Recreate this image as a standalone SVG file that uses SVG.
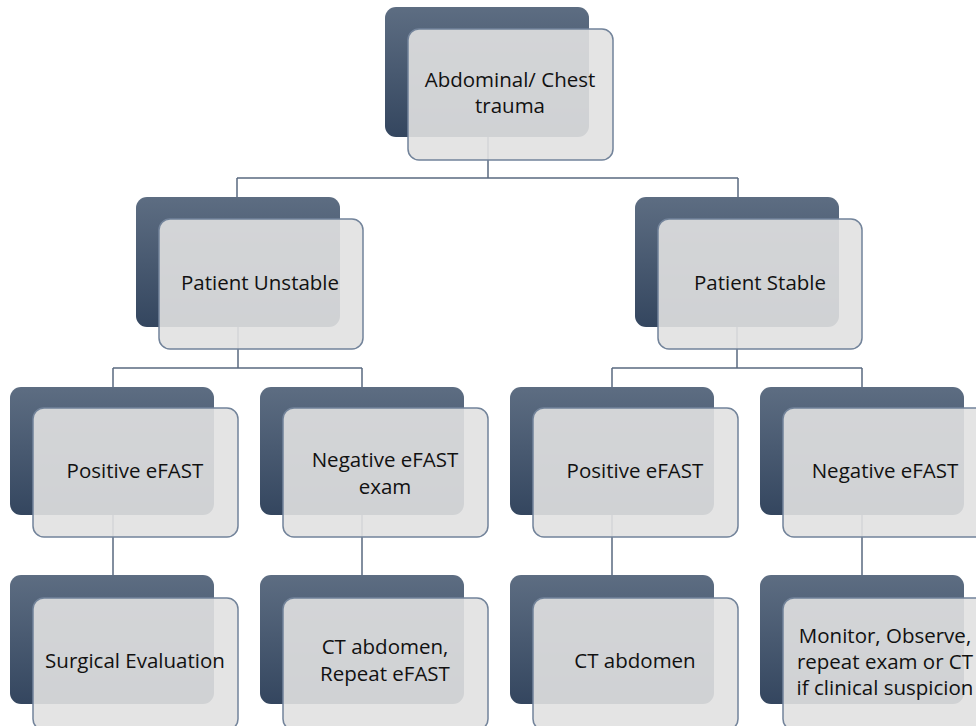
<svg xmlns="http://www.w3.org/2000/svg" width="976" height="726" viewBox="0 0 976 726">
<defs>
<linearGradient id="g" x1="0" y1="0" x2="0" y2="1">
<stop offset="0" stop-color="#5d6d82"/>
<stop offset="1" stop-color="#34465f"/>
</linearGradient>
</defs>
<style>
.back{fill:url(#g);}
.front{fill:#e1e1e1;fill-opacity:0.9;stroke:#72839a;stroke-width:1.5;}
.lbl{font-family:"Open Sans","Liberation Sans",sans-serif;font-size:20.5px;fill:#111111;text-anchor:middle;}
.conn{fill:none;stroke:#5a6a80;stroke-width:1.5;}
</style>
<rect width="976" height="726" fill="#ffffff"/>
<g id="connectors">
<path class="conn" d="M488,137 V178 M237,178 H738 M237,178 V197 M738,178 V197"/>
<path class="conn" d="M238,327 V368 M113,368 H362 M113,368 V387 M362,368 V387"/>
<path class="conn" d="M737,327 V368 M612,368 H862 M612,368 V387 M862,368 V387"/>
<path class="conn" d="M113,515 V575 M362,515 V575 M612,515 V575 M862,515 V575"/>
</g>
<g id="n-root">
<rect class="back" x="385" y="7" width="204" height="130" rx="11"/>
<rect class="front" x="408" y="29" width="205" height="131" rx="11"/>
<text class="lbl"><tspan x="510" y="87">Abdominal/ Chest</tspan><tspan x="510" y="113">trauma</tspan></text>
</g>
<g id="n-unstable">
<rect class="back" x="136" y="197" width="204" height="130" rx="11"/>
<rect class="front" x="159" y="219" width="204" height="130" rx="11"/>
<text class="lbl" x="260" y="290">Patient Unstable</text>
</g>
<g id="n-stable">
<rect class="back" x="635" y="197" width="204" height="130" rx="11"/>
<rect class="front" x="658" y="219" width="204" height="130" rx="11"/>
<text class="lbl" x="760" y="290">Patient Stable</text>
</g>
<g id="n-u-pos">
<rect class="back" x="10" y="387" width="204" height="128" rx="11"/>
<rect class="front" x="33" y="408" width="205" height="129" rx="11"/>
<text class="lbl" x="135" y="478">Positive eFAST</text>
</g>
<g id="n-u-neg">
<rect class="back" x="260" y="387" width="204" height="128" rx="11"/>
<rect class="front" x="283" y="408" width="205" height="129" rx="11"/>
<text class="lbl"><tspan x="385" y="467">Negative eFAST</tspan><tspan x="385" y="494">exam</tspan></text>
</g>
<g id="n-s-pos">
<rect class="back" x="510" y="387" width="204" height="128" rx="11"/>
<rect class="front" x="533" y="408" width="205" height="129" rx="11"/>
<text class="lbl" x="635" y="478">Positive eFAST</text>
</g>
<g id="n-s-neg">
<rect class="back" x="760" y="387" width="204" height="128" rx="11"/>
<rect class="front" x="783" y="408" width="205" height="129" rx="11"/>
<text class="lbl" x="885" y="478">Negative eFAST</text>
</g>
<g id="n-surgical">
<rect class="back" x="10" y="575" width="204" height="129" rx="11"/>
<rect class="front" x="33" y="598" width="205" height="132" rx="11"/>
<text class="lbl" x="135" y="668">Surgical Evaluation</text>
</g>
<g id="n-ct-repeat">
<rect class="back" x="260" y="575" width="204" height="129" rx="11"/>
<rect class="front" x="283" y="598" width="205" height="132" rx="11"/>
<text class="lbl"><tspan x="385" y="654">CT abdomen,</tspan><tspan x="385" y="681">Repeat eFAST</tspan></text>
</g>
<g id="n-ct">
<rect class="back" x="510" y="575" width="204" height="129" rx="11"/>
<rect class="front" x="533" y="598" width="205" height="132" rx="11"/>
<text class="lbl" x="635" y="668">CT abdomen</text>
</g>
<g id="n-monitor">
<rect class="back" x="760" y="575" width="204" height="129" rx="11"/>
<rect class="front" x="783" y="598" width="205" height="132" rx="11"/>
<text class="lbl"><tspan x="885" y="643">Monitor, Observe,</tspan><tspan x="885" y="669">repeat exam or CT</tspan><tspan x="885" y="695">if clinical suspicion</tspan></text>
</g>
</svg>
